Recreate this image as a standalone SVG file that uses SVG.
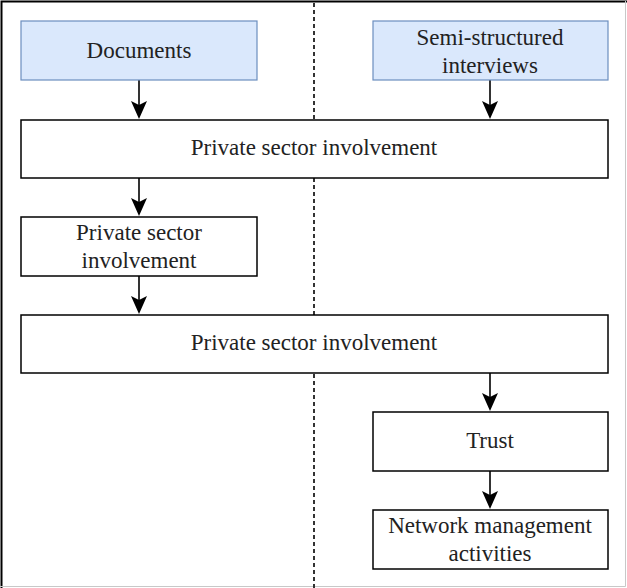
<svg xmlns="http://www.w3.org/2000/svg" width="627" height="588" viewBox="0 0 627 588">
<defs>
<style>
.box{fill:#ffffff;stroke:#000000;stroke-width:1.5}
.src{fill:#dae8fc;stroke:#6c8ebf;stroke-width:1.2}
.t{font-family:'Liberation Serif','Tinos','Noto Serif','DejaVu Serif','FreeSerif','Times New Roman',Times,serif;font-size:23px;fill:#222222;text-anchor:middle}
.c{stroke:#000000;stroke-width:1.6;fill:none}
.h{fill:#000000;stroke:none}
</style>
</defs>
<rect x="0" y="0" width="627" height="588" fill="#ffffff"/>
<path d="M1.5 588 V1.5 H627" fill="none" stroke="#000000" stroke-width="2"/>
<path d="M625.5 1 V586.5 H0" fill="none" stroke="#c8c8c8" stroke-width="1"/>
<line x1="314" y1="3" x2="314" y2="588" stroke="#333333" stroke-width="2" stroke-dasharray="4 3"/>
<g id="connectors">
<line class="c" x1="139" y1="80" x2="139" y2="106"/>
<path class="h" d="M139 119 L131 101 L139 105 L147 101 Z"/>
<line class="c" x1="490" y1="80" x2="490" y2="106"/>
<path class="h" d="M490 119 L482 101 L490 105 L498 101 Z"/>
<line class="c" x1="139" y1="178" x2="139" y2="203"/>
<path class="h" d="M139 216 L131 198 L139 202 L147 198 Z"/>
<line class="c" x1="139" y1="276" x2="139" y2="301"/>
<path class="h" d="M139 314 L131 296 L139 300 L147 296 Z"/>
<line class="c" x1="490" y1="373" x2="490" y2="398"/>
<path class="h" d="M490 411 L482 393 L490 397 L498 393 Z"/>
<line class="c" x1="490" y1="471" x2="490" y2="496"/>
<path class="h" d="M490 509 L482 491 L490 495 L498 491 Z"/>
</g>
<g id="documents">
<rect class="src" x="21" y="21" width="236" height="59"/>
<text class="t" x="139" y="58">Documents</text>
</g>
<g id="interviews">
<rect class="src" x="373" y="21" width="235" height="59"/>
<text class="t" x="490" y="45">Semi-structured</text>
<text class="t" x="490" y="73">interviews</text>
</g>
<g id="psi1">
<rect class="box" x="21" y="120" width="587" height="58"/>
<text class="t" x="314" y="155">Private sector involvement</text>
</g>
<g id="psi2">
<rect class="box" x="21" y="217" width="236" height="59"/>
<text class="t" x="139" y="240">Private sector</text>
<text class="t" x="139" y="268">involvement</text>
</g>
<g id="psi3">
<rect class="box" x="21" y="315" width="587" height="58"/>
<text class="t" x="314" y="350">Private sector involvement</text>
</g>
<g id="trust">
<rect class="box" x="373" y="412" width="235" height="59"/>
<text class="t" x="490" y="448">Trust</text>
</g>
<g id="nma">
<rect class="box" x="373" y="510" width="235" height="59"/>
<text class="t" x="490" y="533">Network management</text>
<text class="t" x="490" y="561">activities</text>
</g>
</svg>
